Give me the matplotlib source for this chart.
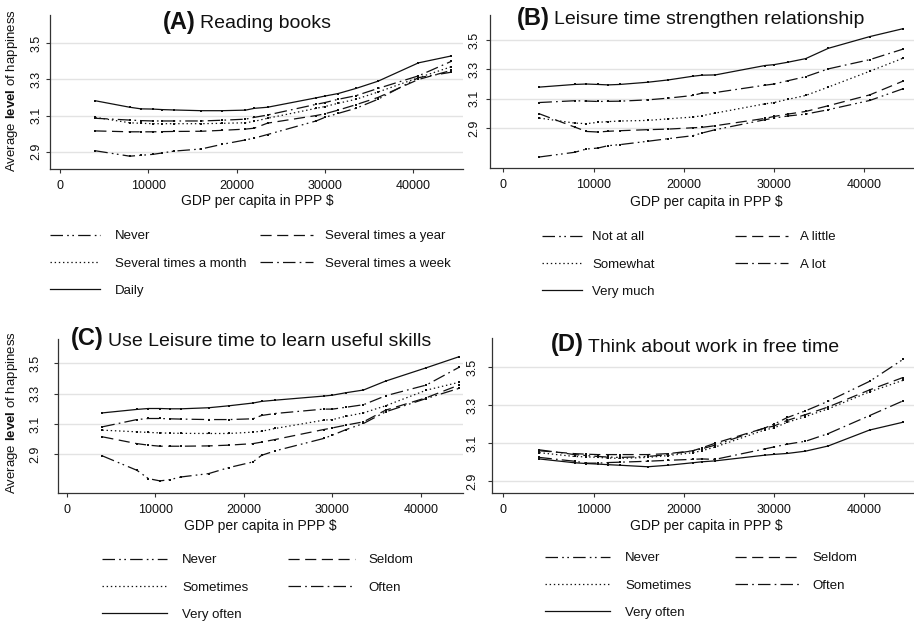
import matplotlib
matplotlib.use("Agg")
import matplotlib.pyplot as plt
from matplotlib.lines import Line2D
from matplotlib.offsetbox import TextArea, HPacker, AnchoredOffsetbox

plt.rcParams['font.family'] = ['Liberation Sans', 'DejaVu Sans']
plt.rcParams['mathtext.fontset'] = 'custom'
plt.rcParams['mathtext.rm'] = 'Liberation Sans'
plt.rcParams['mathtext.bf'] = 'Liberation Sans:bold'
plt.rcParams['lines.scale_dashes'] = False

# ---------------- data ----------------
gdp = [4000, 7900, 9200, 10500, 11600, 12900, 16000, 18300, 21000, 22000,
       23500, 29000, 30000, 31500, 33500, 36000, 40600, 44300]

# (A) Reading books
a_never = [2.905, 2.875, 2.880, 2.885, 2.893, 2.903, 2.915, 2.940, 2.965, 2.975,
           2.995, 3.070, 3.090, 3.112, 3.140, 3.190, 3.310, 3.340]
a_year = [3.015, 3.010, 3.010, 3.010, 3.011, 3.012, 3.013, 3.018, 3.025, 3.030,
          3.058, 3.100, 3.110, 3.130, 3.160, 3.200, 3.300, 3.350]
a_month = [3.090, 3.060, 3.057, 3.055, 3.055, 3.055, 3.055, 3.057, 3.060, 3.068,
           3.085, 3.140, 3.150, 3.168, 3.190, 3.230, 3.310, 3.370]
a_week = [3.085, 3.075, 3.072, 3.070, 3.070, 3.070, 3.070, 3.074, 3.080, 3.090,
          3.103, 3.162, 3.172, 3.190, 3.210, 3.250, 3.320, 3.400]
a_daily = [3.182, 3.146, 3.137, 3.136, 3.133, 3.131, 3.127, 3.127, 3.130, 3.140,
           3.146, 3.198, 3.208, 3.222, 3.250, 3.290, 3.392, 3.430]

# (B) Leisure time strengthen relationship
b_notatall = [2.703, 2.735, 2.757, 2.764, 2.780, 2.787, 2.810, 2.828, 2.848, 2.866,
              2.889, 2.957, 2.968, 2.982, 2.995, 3.025, 3.088, 3.168]
b_little = [2.997, 2.907, 2.877, 2.873, 2.878, 2.882, 2.889, 2.893, 2.902, 2.905,
            2.916, 2.966, 2.979, 2.995, 3.013, 3.052, 3.126, 3.220]
b_somewhat = [2.968, 2.934, 2.930, 2.939, 2.944, 2.948, 2.952, 2.963, 2.975, 2.984,
              3.002, 3.065, 3.074, 3.095, 3.122, 3.179, 3.287, 3.376]
b_alot = [3.074, 3.086, 3.084, 3.081, 3.082, 3.083, 3.092, 3.104, 3.122, 3.138,
          3.142, 3.192, 3.200, 3.222, 3.250, 3.303, 3.366, 3.438]
b_verymuch = [3.179, 3.197, 3.200, 3.197, 3.194, 3.197, 3.212, 3.228, 3.253, 3.260,
              3.262, 3.326, 3.332, 3.348, 3.373, 3.443, 3.523, 3.577]

# (C) Use Leisure time to learn useful skills
c_never = [2.889, 2.794, 2.739, 2.724, 2.732, 2.750, 2.772, 2.812, 2.849, 2.893,
           2.922, 3.004, 3.026, 3.062, 3.103, 3.180, 3.268, 3.335]
c_seldom = [3.015, 2.970, 2.960, 2.953, 2.953, 2.953, 2.955, 2.960, 2.970, 2.980,
            2.997, 3.063, 3.074, 3.092, 3.114, 3.191, 3.273, 3.357]
c_sometimes = [3.059, 3.048, 3.044, 3.041, 3.039, 3.038, 3.037, 3.037, 3.046, 3.052,
               3.070, 3.125, 3.129, 3.150, 3.173, 3.220, 3.323, 3.375]
c_often = [3.081, 3.129, 3.136, 3.136, 3.134, 3.132, 3.129, 3.129, 3.134, 3.156,
           3.169, 3.198, 3.198, 3.210, 3.227, 3.286, 3.357, 3.474]
c_veryoften = [3.173, 3.196, 3.202, 3.202, 3.200, 3.200, 3.207, 3.220, 3.238, 3.249,
               3.257, 3.284, 3.290, 3.306, 3.324, 3.383, 3.471, 3.544]

# (D) Think about work in free time
d_never = [3.065, 3.040, 3.035, 3.030, 3.027, 3.025, 3.030, 3.040, 3.060, 3.070,
           3.090, 3.180, 3.200, 3.235, 3.270, 3.320, 3.425, 3.540]
d_seldom = [3.060, 3.045, 3.042, 3.040, 3.040, 3.040, 3.040, 3.045, 3.060, 3.075,
            3.100, 3.180, 3.190, 3.220, 3.250, 3.290, 3.380, 3.445]
d_sometimes = [3.050, 3.030, 3.028, 3.025, 3.022, 3.020, 3.025, 3.035, 3.050, 3.060,
               3.080, 3.170, 3.180, 3.210, 3.240, 3.280, 3.370, 3.430]
d_often = [3.025, 3.005, 2.995, 2.995, 2.998, 3.000, 3.005, 3.010, 3.015, 3.017,
           3.015, 3.070, 3.080, 3.095, 3.110, 3.150, 3.245, 3.322]
d_veryoften = [3.017, 2.997, 2.993, 2.990, 2.987, 2.984, 2.976, 2.984, 2.997, 3.002,
               3.007, 3.037, 3.041, 3.046, 3.058, 3.085, 3.169, 3.210]

labels_a = ["Never", "Several times a year", "Several times a month",
            "Several times a week", "Daily"]
labels_b = ["Not at all", "A little", "Somewhat", "A lot", "Very much"]
labels_cd = ["Never", "Seldom", "Sometimes", "Often", "Very often"]

xticks = [0, 10000, 20000, 30000, 40000]
yticks = [2.9, 3.1, 3.3, 3.5]

# ---------------- styles ----------------
styles = [
    (0, (9, 3, 1.2, 2.5, 1.2, 3)),   # longdash dot dot
    (0, (8, 4)),                      # long dash
    (0, (1, 2)),                      # dotted
    (0, (9, 3, 1.2, 3)),              # dash dot
    '-',                              # solid
]
LW = 0.9
INK = '#111111'

W, H = 914, 624
fig = plt.figure(figsize=(W / 100, H / 100), dpi=100)


def add_ax(l, r, t, b):
    return fig.add_axes([l / W, 1 - b / H, (r - l) / W, (b - t) / H])


def fx(px):
    return px / W


def fy(py):
    return 1 - py / H


panels = [
    dict(box=(50, 463, 15, 169), xlim=(-1133, 45640), ylim=(2.804, 3.657),
         series=[a_never, a_year, a_month, a_week, a_daily], labels=labels_a,
         letter="(A)", title="Reading books", tc=(247, 22), ypad=2.5,
         xl=(257, 194), leg=((50, 100, 115), (260, 313, 325)), legtop=230,
         ylabel=(12, 91)),
    dict(box=(490, 914, 15, 168), xlim=(-1474, 45500), ylim=(2.628, 3.67),
         series=[b_notatall, b_little, b_somewhat, b_alot, b_verymuch], labels=labels_b,
         letter="(B)", title="Leisure time strengthen relationship", tc=(691, 18), ypad=4,
         xl=(706, 195), leg=((542, 582, 592), (735, 788, 800)), legtop=231,
         ylabel=None),
    dict(box=(58, 463, 339, 493), xlim=(-1017, 44750), ylim=(2.644, 3.661),
         series=[c_never, c_seldom, c_sometimes, c_often, c_veryoften], labels=labels_cd,
         letter="(C)", title="Use Leisure time to learn useful skills", tc=(251, 339), ypad=9,
         xl=(260, 519), leg=((102, 167, 182), (288, 355, 368)), legtop=554,
         ylabel=(12, 413)),
    dict(box=(492, 914, 338, 493), xlim=(-1253, 45530), ylim=(2.838, 3.653),
         series=[d_never, d_seldom, d_sometimes, d_often, d_veryoften], labels=labels_cd,
         letter="(D)", title="Think about work in free time", tc=(695, 345), ypad=7,
         xl=(706, 519), leg=((545, 610, 625), (735, 800, 812)), legtop=552,
         ylabel=None),
]

for p in panels:
    l, r, t, b = p['box']
    ax = add_ax(l, r, t, b)
    for ys, ls in zip(p['series'], styles):
        ax.plot(gdp, ys, color=INK, lw=LW, linestyle=ls,
                marker='s', ms=1.6, mew=0, mfc=INK)
    ax.set_xlim(*p['xlim'])
    ax.set_ylim(*p['ylim'])
    ax.set_xticks(xticks)
    ax.set_xticklabels([str(v) for v in xticks])
    ax.set_yticks(yticks)
    ax.set_yticklabels([f"{v:.1f}" for v in yticks], rotation=90, va='center')
    ax.yaxis.grid(True, color='#e3e3e3', lw=1.0)
    ax.set_axisbelow(True)
    for s in ('top', 'right'):
        ax.spines[s].set_visible(False)
    for s in ('left', 'bottom'):
        ax.spines[s].set_color('#333333')
        ax.spines[s].set_linewidth(0.9)
    ax.tick_params(axis='x', length=3, width=0.8, color='#333333', pad=5,
                   labelsize=9, labelcolor='#111111')
    ax.tick_params(axis='y', length=3, width=0.8, color='#333333', pad=p['ypad'],
                   labelsize=9, labelcolor='#111111')
    # x label
    ax.set_xlabel("GDP per capita in PPP $", fontsize=10, color='#111111')
    ax.xaxis.set_label_coords((p['xl'][0] - l) / (r - l), (b - p['xl'][1]) / (b - t))
    ax.xaxis.label.set_va('top')
    # y label
    if p['ylabel'] is not None:
        fig.text(fx(p['ylabel'][0]), fy(p['ylabel'][1]),
                 r"Average $\mathbf{level}$ of happiness", rotation=90,
                 ha='center', va='center', fontsize=9.5, color='#111111')
    # title
    box = HPacker(children=[
        TextArea(p['letter'], textprops=dict(fontsize=17, fontweight='bold', color='#111111')),
        TextArea(p['title'], textprops=dict(fontsize=14, color='#111111'))],
        align='baseline', pad=0, sep=3)
    ab = AnchoredOffsetbox(loc='center', child=box, frameon=False, pad=0, borderpad=0,
                           bbox_to_anchor=(fx(p['tc'][0]), fy(p['tc'][1])),
                           bbox_transform=fig.transFigure)
    fig.add_artist(ab)
    # legend: two columns, row-major order
    handles = [Line2D([], [], color=INK, lw=LW, linestyle=ls) for ls in styles]
    fs = 9.5
    cols = [[0, 2, 4], [1, 3]]
    for (h0, h1, lx), idx in zip(p['leg'], cols):
        hl_pt = (h1 - h0) * 0.72
        pad_pt = (lx - h1) * 0.72
        leg = fig.legend([handles[i] for i in idx], [p['labels'][i] for i in idx],
                         loc='upper left', bbox_to_anchor=(fx(h0), fy(p['legtop'])),
                         bbox_transform=fig.transFigure, frameon=False,
                         fontsize=fs, handlelength=hl_pt / fs,
                         handletextpad=pad_pt / fs, borderpad=0, borderaxespad=0,
                         labelspacing=1.15)
        for txt in leg.get_texts():
            txt.set_color('#111111')

fig.savefig("out.png", dpi=100, facecolor='white')
